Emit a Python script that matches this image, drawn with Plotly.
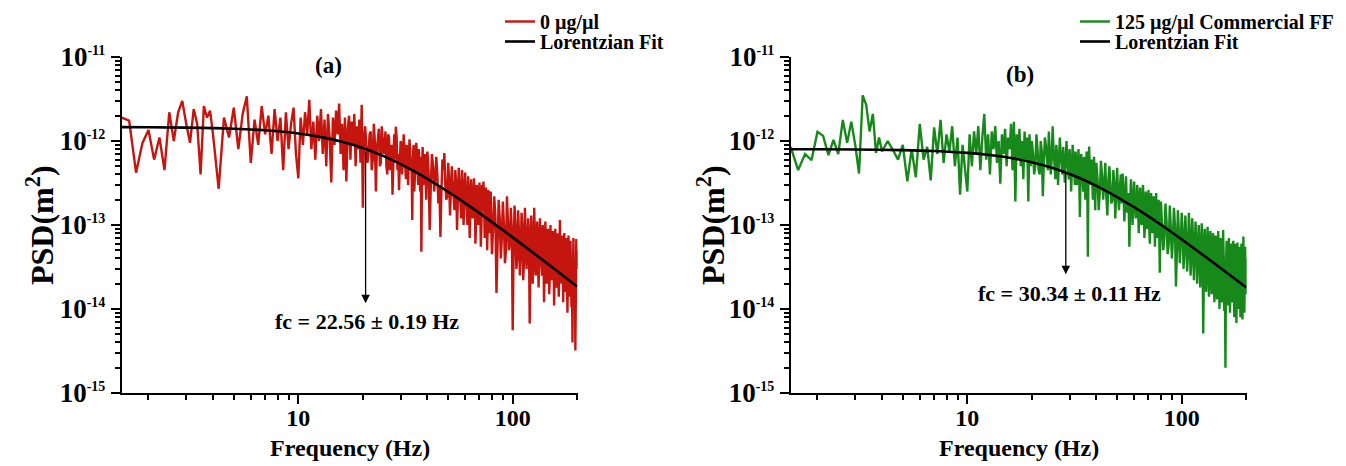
import math
import plotly.graph_objects as go

# ---------------- data (PSD values in units of 1e-12 m^2) ----------------
freq = [1.5, 1.625, 1.75, 1.875, 2.0, 2.125, 2.25, 2.375, 2.5, 2.625, 2.75, 2.875, 3.0, 3.125, 3.25, 3.375, 3.5, 3.625, 3.75, 3.875, 4.0,
        4.25, 4.5, 4.75, 5.0, 5.25, 5.5, 5.75, 6.0, 6.25, 6.5, 6.75, 7.0, 7.25, 7.5, 7.75, 8.0, 8.25, 8.5, 8.75, 9.0, 9.25, 9.5, 9.75, 10.0,
        10.25, 10.5, 10.75, 11.0, 11.25, 11.5, 11.75, 12.0, 12.25, 12.5, 12.75, 13.0, 13.25, 13.5, 13.75, 14.0, 14.25, 14.5, 14.75, 15.0,
        15.25, 15.5, 15.75, 16.0, 16.25, 16.5, 16.75, 17.0, 17.25, 17.5, 17.75, 18.0, 18.25, 18.5, 18.75, 19.0, 19.25, 19.5, 19.75, 20.0,
        20.25, 20.5, 20.75, 21, 21.25, 21.5, 21.75, 22, 22.25, 22.5, 22.75, 23, 23.25, 23.5, 23.75, 24, 24.25, 24.5, 24.75, 25,
        25.25, 25.5, 25.75, 26, 26.25, 26.5, 26.75, 27, 27.25, 27.5, 27.75, 28, 28.25, 28.5, 28.75, 29, 29.25, 29.5, 29.75, 30,
        30.25, 30.5, 30.75, 31, 31.25, 31.5, 31.75, 32, 32.25, 32.5, 32.75, 33, 33.25, 33.5, 33.75, 34, 34.25, 34.5, 34.75, 35,
        35.25, 35.5, 35.75, 36, 36.25, 36.5, 36.75, 37, 37.25, 37.5, 37.75, 38, 38.25, 38.5, 38.75, 39, 39.25, 39.5, 39.75, 40,
        40.5, 41, 41.5, 42, 42.5, 43, 43.5, 44, 44.5, 45, 45.5, 46, 46.5, 47, 47.5, 48, 48.5, 49, 49.5, 50,
        50.5, 51, 51.5, 52, 52.5, 53, 53.5, 54, 54.5, 55, 55.5, 56, 56.5, 57, 57.5, 58, 58.5, 59, 59.5, 60,
        60.5, 61, 61.5, 62, 62.5, 63, 63.5, 64, 64.5, 65, 65.5, 66, 66.5, 67, 67.5, 68, 68.5, 69, 69.5, 70,
        70.5, 71, 71.5, 72, 72.5, 73, 73.5, 74, 74.5, 75, 75.5, 76, 76.5, 77, 77.5, 78, 78.5, 79, 79.5, 80,
        81, 82, 83, 84, 85, 86, 87, 88, 89, 90, 91, 92, 93, 94, 95, 96, 97, 98, 99, 100,
        101, 102, 103, 104, 105, 106, 107, 108, 109, 110, 111, 112, 113, 114, 115, 116, 117, 118, 119, 120,
        121, 122, 123, 124, 125, 126, 127, 128, 129, 130, 131, 132, 133, 134, 135, 136, 137, 138, 139, 140,
        141, 142, 143, 144, 145, 146, 147, 148, 149, 150, 151, 152, 153, 154, 155, 156, 157, 158, 159, 160,
        161, 162, 163, 164, 165, 166, 167, 168, 169, 170, 171, 172, 173, 174, 175, 176, 177, 178, 179, 180,
        181, 182, 183, 184, 185, 186, 187, 188, 189, 190, 191, 192, 193, 194, 195, 196, 197, 198, 199, 200]

psd_0ugul = [1.9, 1.75, 0.42, 0.95, 1.35, 0.6, 1.1, 0.45, 2.2, 1.0, 2.2, 3.0, 1.6, 0.95, 2.4, 1.6, 0.4, 2.6, 1.9, 2.3, 1.2,
             0.27, 1.9, 1.1, 2.5, 0.8, 2.1, 3.4, 0.55, 1.8, 0.9, 2.6, 1.2, 2.0, 0.7, 2.4, 1.0, 1.9, 0.45, 2.2, 0.8, 1.6, 2.5, 0.7, 0.36,
             1.9, 0.9, 2.2, 1.2, 3.1, 0.8, 1.7, 0.6, 2.0, 1.0, 2.4, 0.7, 1.8, 0.5, 2.1, 1.1, 0.32, 1.9, 0.9, 2.3,
             1.2, 2.8, 0.7, 1.6, 0.45, 1.9, 0.33, 1.4, 2.0, 0.6, 1.7, 0.9, 2.1, 0.5, 1.5, 0.8, 1.8, 0.55, 2.7, 0.16,
             1.1, 1.5, 0.9, 0.55, 0.7, 1.2, 1.3, 0.45, 0.6, 1.6, 1.0, 0.25, 0.8, 1.1, 1.4, 0.5, 0.55, 1.5, 1.0, 0.7,
             0.9, 1.3, 0.5, 0.4, 1.2, 1.1, 0.45, 0.6, 0.9, 0.23, 0.8, 1.2, 0.6, 1.48, 1.1, 0.45, 0.7, 0.26, 0.55, 1.0,
             0.9, 0.4, 0.6, 1.2, 0.8, 0.55, 0.35, 0.9, 0.7, 0.3, 0.6, 1.05, 0.75, 0.45, 0.5, 0.115, 0.65, 0.9, 0.25, 0.35,
             0.6, 0.95, 0.7, 0.5, 0.3, 0.8, 0.55, 0.25, 0.65, 0.048, 0.4, 0.85, 0.55, 0.3, 0.5, 0.7, 0.35, 0.2, 0.6, 0.75,
             0.45, 0.087, 0.3, 0.7, 0.5, 0.25, 0.35, 0.65, 0.4, 0.18, 0.3, 0.072, 0.25, 0.6, 0.45, 0.72, 0.3, 0.2, 0.22, 0.55,
             0.35, 0.13, 0.25, 0.5, 0.3, 0.2, 0.15, 0.45, 0.3, 0.087, 0.25, 0.48, 0.3, 0.15, 0.12, 0.45, 0.28, 0.1, 0.2, 0.42,
             0.25, 0.14, 0.1, 0.38, 0.22, 0.07, 0.18, 0.35, 0.2, 0.12, 0.15, 0.36, 0.22, 0.06, 0.11, 0.3, 0.2, 0.1, 0.16, 0.32,
             0.18, 0.055, 0.1, 0.3, 0.15, 0.33, 0.2, 0.07, 0.12, 0.28, 0.17, 0.05, 0.1, 0.26, 0.15, 0.08, 0.13, 0.25, 0.09, 0.045,
             0.09, 0.22, 0.13, 0.0155, 0.06, 0.2, 0.12, 0.04, 0.07, 0.19, 0.1, 0.035, 0.05, 0.22, 0.11, 0.05, 0.06, 0.16, 0.09, 0.0056,
             0.05, 0.17, 0.1, 0.03, 0.04, 0.15, 0.08, 0.025, 0.045, 0.14, 0.09, 0.022, 0.04, 0.16, 0.07, 0.03, 0.05, 0.12, 0.08, 0.0067,
             0.035, 0.13, 0.07, 0.02, 0.04, 0.16, 0.065, 0.025, 0.03, 0.11, 0.06, 0.018, 0.04, 0.12, 0.055, 0.028, 0.025, 0.1, 0.06, 0.012,
             0.03, 0.11, 0.05, 0.02, 0.035, 0.09, 0.055, 0.015, 0.025, 0.1, 0.05, 0.022, 0.03, 0.085, 0.045, 0.011, 0.025, 0.09, 0.05, 0.018,
             0.022, 0.08, 0.045, 0.014, 0.03, 0.115, 0.04, 0.02, 0.02, 0.075, 0.045, 0.012, 0.025, 0.08, 0.04, 0.016, 0.02, 0.07, 0.035, 0.009,
             0.025, 0.075, 0.04, 0.014, 0.018, 0.065, 0.035, 0.0105, 0.022, 0.004, 0.03, 0.07, 0.02, 0.012, 0.035, 0.0032, 0.015, 0.068, 0.03, 0.05]

psd_125ugul = [0.85, 0.45, 0.7, 0.59, 1.29, 1.15, 0.68, 1.03, 0.7, 1.78, 0.95, 1.7, 0.9, 0.41, 3.5, 2.7, 1.3, 2.1, 0.72, 1.1, 0.75,
               1.0, 0.78, 0.6, 0.9, 0.33, 0.8, 0.37, 1.6, 0.6, 0.85, 0.34, 1.45, 0.7, 1.78, 0.55, 1.2, 0.75, 1.5, 0.5, 1.1, 0.23, 0.9, 0.5, 0.25,
               1.2, 0.5, 1.3, 0.7, 1.5, 0.45, 1.1, 2.1, 0.6, 1.2, 0.4, 1.3, 0.8, 1.5, 0.55, 1.0, 0.31, 1.2, 0.7, 1.4,
               0.5, 1.1, 0.8, 1.6, 0.45, 1.69, 0.19, 1.2, 0.6, 1.4, 0.5, 1.0, 0.35, 1.3, 0.6, 1.1, 0.19, 1.2, 0.5, 1.0,
               0.7, 0.4, 0.5, 1.2, 0.8, 0.45, 0.4, 1.0, 0.75, 0.22, 0.55, 1.1, 0.9, 0.6, 0.45, 1.3, 0.7, 0.4, 0.6, 1.5,
               0.8, 0.5, 0.35, 0.9, 0.65, 0.3, 0.5, 1.1, 0.7, 0.55, 0.4, 0.85, 0.6, 0.32, 0.55, 1.0, 0.65, 0.45, 0.35, 0.8,
               0.55, 0.25, 0.45, 0.9, 0.6, 0.4, 0.3, 0.75, 0.5, 0.3, 0.45, 0.8, 0.4, 0.125, 0.5, 0.7, 0.45, 0.3, 0.25, 0.65,
               0.45, 0.2, 0.4, 0.75, 0.35, 0.042, 0.5, 0.86, 0.45, 0.3, 0.3, 0.6, 0.4, 0.2, 0.35, 0.65, 0.3, 0.15, 0.4, 0.55,
               0.35, 0.15, 0.25, 0.58, 0.38, 0.2, 0.3, 0.55, 0.22, 0.13, 0.35, 0.5, 0.28, 0.18, 0.2, 0.45, 0.3, 0.12, 0.25, 0.48,
               0.22, 0.15, 0.28, 0.4, 0.18, 0.41, 0.26, 0.11, 0.2, 0.38, 0.15, 0.14, 0.24, 0.055, 0.2, 0.35, 0.16, 0.1, 0.22, 0.33,
               0.18, 0.12, 0.14, 0.3, 0.2, 0.08, 0.15, 0.28, 0.12, 0.1, 0.18, 0.3, 0.15, 0.07, 0.11, 0.25, 0.16, 0.09, 0.13, 0.26,
               0.1, 0.06, 0.15, 0.24, 0.12, 0.08, 0.1, 0.22, 0.14, 0.055, 0.11, 0.24, 0.09, 0.07, 0.13, 0.2, 0.1, 0.027, 0.08, 0.19,
               0.1, 0.05, 0.07, 0.18, 0.11, 0.045, 0.06, 0.17, 0.09, 0.04, 0.07, 0.16, 0.1, 0.0185, 0.05, 0.15, 0.08, 0.035, 0.06, 0.14,
               0.085, 0.03, 0.05, 0.13, 0.07, 0.028, 0.045, 0.14, 0.08, 0.025, 0.04, 0.12, 0.065, 0.022, 0.045, 0.11, 0.06, 0.02, 0.035, 0.1,
               0.06, 0.018, 0.04, 0.105, 0.055, 0.0051, 0.03, 0.09, 0.05, 0.016, 0.035, 0.095, 0.05, 0.014, 0.03, 0.085, 0.045, 0.015, 0.025, 0.08,
               0.045, 0.012, 0.03, 0.075, 0.04, 0.013, 0.022, 0.085, 0.04, 0.01, 0.025, 0.07, 0.035, 0.012, 0.02, 0.087, 0.04, 0.0095, 0.02, 0.002,
               0.035, 0.065, 0.022, 0.011, 0.03, 0.07, 0.018, 0.009, 0.035, 0.06, 0.02, 0.012, 0.03, 0.065, 0.017, 0.008, 0.028, 0.06, 0.018, 0.0068,
               0.03, 0.062, 0.016, 0.01, 0.028, 0.055, 0.015, 0.008, 0.025, 0.06, 0.016, 0.0075, 0.03, 0.073, 0.014, 0.009, 0.025, 0.055, 0.015, 0.04]

# Lorentzian fit curves
fit_freq = [1.5, 2, 3, 5, 7, 10, 13, 16, 20, 25, 30, 35, 40, 50, 60, 70, 80, 100, 120, 140, 160, 180, 200]
fit_0ugul = [1.4635, 1.4585, 1.4445, 1.4012, 1.3409, 1.2286, 1.1036, 0.978, 0.8231, 0.6598, 0.531, 0.4315, 0.3548,
             0.2486, 0.1821, 0.1383, 0.1083, 0.0712, 0.0502, 0.0372, 0.0287, 0.0227, 0.01847]
fit_125ugul = [0.798, 0.7965, 0.7923, 0.7788, 0.7596, 0.7216, 0.6759, 0.6259, 0.5577, 0.4765, 0.4045, 0.3432, 0.2922,
               0.2153, 0.1629, 0.1265, 0.1006, 0.0674, 0.0481, 0.0359, 0.0278, 0.0221, 0.018]

UNIT = 1e-12  # values above are in 1e-12 m^2

series_names = ["0 \u00b5g/\u00b5l", "125 \u00b5g/\u00b5l Commercial FF"]
fit_name = "Lorentzian Fit"
panel_labels = ["(a)", "(b)"]
fc_texts = ["fc = 22.56 \u00b1 0.19 Hz", "fc = 30.34 \u00b1 0.11 Hz"]
arrow_freq = [20.6, 28.8]            # Hz
arrow_top = [7.8e-13, 4.3e-13]       # m^2 (on the fit)
arrow_tip = [1.17e-14, 2.6e-14]      # m^2
fc_text_pos = [(20.8, 10 ** -14.143), (30.1, 10 ** -13.81)]

assert len(freq) == len(psd_0ugul) == len(psd_125ugul), (len(freq), len(psd_0ugul), len(psd_125ugul))

# ---------------- style ----------------
FONT = "Liberation Serif"
RED = "#c4150f"
GREEN = "#17891a"

W, H = 1346, 466
def px(x):
    return x / W
def py(y):
    return 1 - y / H

fig = go.Figure()
colors = [RED, GREEN]
data_sets = [psd_0ugul, psd_125ugul]
fits = [fit_0ugul, fit_125ugul]
legend_ids = [("legend", "legend3"), ("legend2", "legend4")]
for i in range(2):
    xa = "x" if i == 0 else "x2"
    ya = "y" if i == 0 else "y2"
    fig.add_trace(go.Scatter(x=freq, y=[v * UNIT for v in data_sets[i]], mode="lines",
                             line=dict(color=colors[i], width=2.4), name=series_names[i],
                             xaxis=xa, yaxis=ya, legend=legend_ids[i][0]))
    fig.add_trace(go.Scatter(x=fit_freq, y=[v * UNIT for v in fits[i]], mode="lines",
                             line=dict(color="black", width=2.6, shape="spline"), name=fit_name,
                             xaxis=xa, yaxis=ya, legend=legend_ids[i][1]))

x_minor = [k for k in range(2, 10)] + [10 * k for k in range(2, 10)] + [200]
y_major = [10.0 ** e for e in range(-15, -10)]
y_text = ['10<sup><span style="font-size:14px">%d</span></sup>' % e for e in range(-15, -10)]
y_minor = [k * 10.0 ** e for e in range(-15, -11) for k in range(2, 10)]

common = dict(type="log", showline=True, linecolor="black", linewidth=2, ticks="outside",
              ticklen=9, tickwidth=2, tickcolor="black", showgrid=False, zeroline=False,
              mirror=False, automargin=False)
xcommon = dict(common, range=[math.log10(1.5), math.log10(201)], tickmode="array",
               tickvals=[10, 100], ticktext=["10", "100"], ticklabelstandoff=-7,
               tickfont=dict(family=FONT, size=24, color="black", weight="bold"),
               minor=dict(tickmode="array", tickvals=x_minor, ticks="outside", ticklen=5,
                          tickwidth=2, tickcolor="black", showgrid=False))
ycommon = dict(common, range=[-15, -11], tickmode="array", tickvals=y_major, ticktext=y_text,
               tickfont=dict(family=FONT, size=27, color="black", weight="bold"),
               minor=dict(tickmode="array", tickvals=y_minor, ticks="outside", ticklen=5,
                          tickwidth=2, tickcolor="black", showgrid=False))

legend_font = dict(family=FONT, size=20, color="black", weight="bold")
def legend_box(xpx, ypx):
    return dict(x=px(xpx), y=py(ypx), xanchor="left", yanchor="top", bgcolor="rgba(0,0,0,0)",
                font=legend_font, tracegroupgap=0, itemwidth=30)

fig.update_layout(
    width=W, height=H, margin=dict(l=0, r=0, t=0, b=0, autoexpand=False),
    paper_bgcolor="white", plot_bgcolor="white",
    font=dict(family=FONT, color="black"),
    xaxis=dict(xcommon, domain=[px(121.7), px(577.7)], anchor="y"),
    yaxis=dict(ycommon, domain=[py(393), py(57)], anchor="x"),
    xaxis2=dict(xcommon, domain=[px(790.7), px(1246.7)], anchor="y2"),
    yaxis2=dict(ycommon, domain=[py(393), py(57)], anchor="x2"),
    legend=legend_box(500, 2),
    legend3=legend_box(500, 22),
    legend2=legend_box(1075, 2),
    legend4=legend_box(1075, 22),
    showlegend=True,
)

bold = dict(family=FONT, color="black", weight="bold")
def paper_text(x, y, text, size, angle=0):
    fig.add_annotation(x=px(x), y=py(y), xref="paper", yref="paper", text=text, textangle=angle,
                       xanchor="center", yanchor="middle", showarrow=False,
                       font=dict(bold, size=size))

# axis titles
paper_text(40, 225, "PSD(m<sup>2</sup>)", 32, -90)
paper_text(711, 225, "PSD(m<sup>2</sup>)", 32, -90)
paper_text(349.7, 448, "Frequency (Hz)", 24)
paper_text(1018.7, 448, "Frequency (Hz)", 24)
# panel labels
paper_text(328, 66, panel_labels[0], 23)
paper_text(1020, 74, panel_labels[1], 23)

# arrows + fc labels
for i in range(2):
    xr = "x" if i == 0 else "x2"
    yr = "y" if i == 0 else "y2"
    lf = math.log10(arrow_freq[i])
    fig.add_annotation(x=lf, y=math.log10(arrow_tip[i]), ax=lf, ay=math.log10(arrow_top[i]),
                       xref=xr, yref=yr, axref=xr, ayref=yr, text="", showarrow=True,
                       arrowhead=2, arrowsize=1.3, arrowwidth=1.3, arrowcolor="black", standoff=0)
    tx, ty = fc_text_pos[i]
    fig.add_annotation(x=math.log10(tx), y=math.log10(ty), xref=xr, yref=yr, text=fc_texts[i],
                       xanchor="center", yanchor="middle", showarrow=False, font=dict(bold, size=22))

fig.write_html("out.html")
